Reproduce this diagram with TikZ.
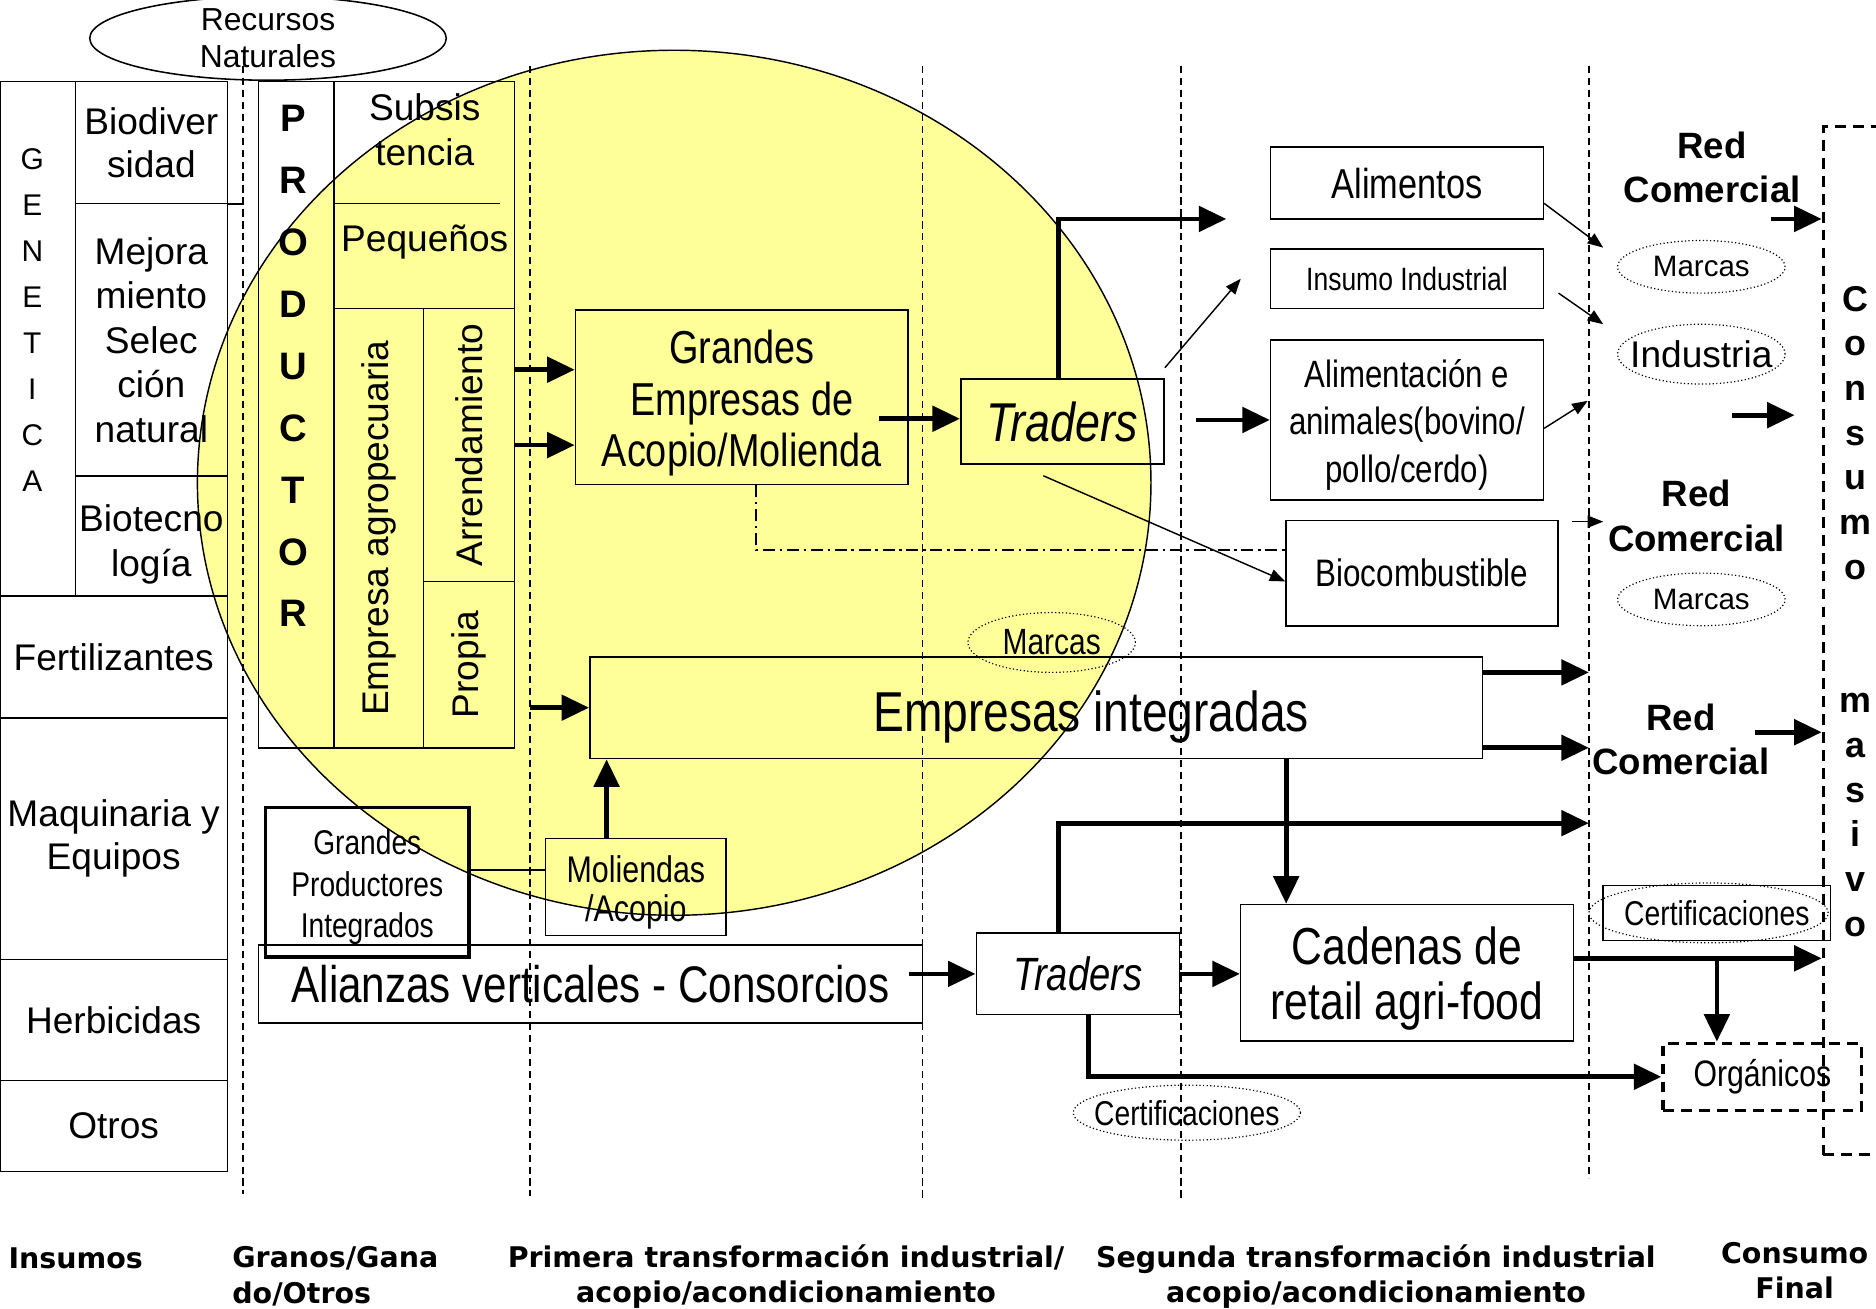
\documentclass[tikz,border=0pt]{standalone}
\usepackage{fontspec}
\setmainfont{Liberation Sans}
\newfontfamily\estrecha[FakeStretch=0.82]{Liberation Sans}
\newfontfamily\verdana{DejaVu Sans}
\usepackage{tikz}
\usetikzlibrary{shapes,arrows.meta}
\definecolor{amarillo}{RGB}{255,255,153}

\begin{document}
\begin{tikzpicture}[x=1pt,y=-1pt]
	\tikzstyle{caja}=[rectangle,draw,line width=1.3pt,inner sep=0pt,align=center,
	font=\fontsize{31}{37}\selectfont]
	\tikzstyle{texto}=[inner sep=0pt,align=center,font=\fontsize{31}{37}\selectfont]
	\tikzstyle{marca}=[ellipse,draw,dotted,line width=1pt,inner sep=0pt]
	\tikzstyle{consumo}=[rectangle,draw,line width=2.8pt,dash pattern=on 9pt off 6pt,
	inner sep=0pt]
	\tikzstyle{etiq}=[inner sep=0pt,align=center,
	font=\verdana\bfseries\fontsize{23.8}{30}\selectfont]
	\tikzstyle{etapa}=[line width=1.2pt,dash pattern=on 6pt off 4pt]

	\useasboundingbox (0,0) rectangle (1568,1094);
	\fill[amarillo] (563.5,403.5) ellipse [x radius=398.5pt, y radius=361.5pt];

	\draw[etapa] (203,55) -- (203,998);
	\draw[etapa] (443,55) -- (443,1000);
	\draw[etapa] (771,55) -- (771,1003);
	\draw[etapa] (987,55) -- (987,1003);
	\draw[etapa] (1328,55) -- (1328,985);

	\node[ellipse,draw,line width=1.3pt,inner sep=0pt,minimum width=298pt,minimum height=68pt,
	align=center,font=\fontsize{26.6}{31}\selectfont] (rec) at (224,32) {Recursos\\Naturales};

	\node[caja,minimum width=63pt,minimum height=430pt] (gen) at (31.5,283) {};
	\node[texto,font=\fontsize{25}{38.5}\selectfont] (genl) at (27,267.5) {G\\E\\N\\E\\T\\I\\C\\A};
	\node[caja,minimum width=127pt,minimum height=102pt,font=\fontsize{31}{36}\selectfont]
	(biod) at (126.5,119) {Biodiver\\sidad};
	\node[caja,minimum width=127pt,minimum height=228pt,font=\fontsize{31}{37.2}\selectfont]
	(mejo) at (126.5,284) {Mejora\\miento\\Selec\\ción\\natural};
	\node[caja,minimum width=127pt,minimum height=100pt] (biot) at (126.5,448) {};
	\node[texto] (biotl) at (126.5,455) {Biotecno\\logía};
	\node[caja,minimum width=190pt,minimum height=102pt] (fert) at (95,549) {Fertilizantes};
	\node[caja,minimum width=190pt,minimum height=202pt,font=\fontsize{31}{36}\selectfont]
	(maqu) at (95,701) {Maquinaria y\\Equipos};
	\node[caja,minimum width=190pt,minimum height=101pt] (herb) at (95,852.5) {Herbicidas};
	\node[caja,minimum width=190pt,minimum height=76pt] (otro) at (95,941) {Otros};

	\node[caja,minimum width=63pt,minimum height=557pt] (prod) at (247.5,346.5) {};
	\node[texto,font=\bfseries\fontsize{32}{51.75}\selectfont] (prodl) at (245,306)
	{P\\R\\O\\D\\U\\C\\T\\O\\R};
	\node[caja,minimum width=151pt,minimum height=190pt] (subs) at (354.5,163) {};
	\node[texto] (subl) at (355,108.5) {Subsis\\tencia};
	\node[texto] (pequ) at (355,202) {Pequeños};
	\node[caja,rotate=90,minimum width=367pt,minimum height=75pt] (empa) at (316.5,441.5)
	{Empresa agropecuaria};
	\node[caja,rotate=90,minimum width=228pt,minimum height=76pt] (arre) at (392,372)
	{Arrendamiento};
	\node[caja,rotate=90,minimum width=139pt,minimum height=76pt] (prop) at (392,555.5) {Propia};

	\node[caja,minimum width=278pt,minimum height=146pt] (gem) at (620,332) {};
	\node[texto,font=\estrecha\fontsize{38.6}{43}\selectfont] (geml) at (620,337)
	{Grandes\\Empresas de\\Acopio/Molienda};
	\node[caja,minimum width=170pt,minimum height=71pt,
	font=\estrecha\itshape\fontsize{45.7}{50}\selectfont] (tra1) at (888,352.5) {Traders};

	\node[caja,minimum width=228pt,minimum height=60pt,font=\estrecha\fontsize{35}{40}\selectfont]
	(alim) at (1176,153) {Alimentos};
	\node[caja,minimum width=228pt,minimum height=50pt,font=\estrecha\fontsize{27}{30}\selectfont]
	(insu) at (1176,233) {Insumo Industrial};
	\node[caja,minimum width=228pt,minimum height=134pt] (alim2) at (1176,351) {};
	\node[texto,font=\estrecha\fontsize{31.8}{39.5}\selectfont] (alim2l) at (1176,355)
	{Alimentación e\\animales(bovino/\\pollo/cerdo)};
	\node[caja,minimum width=227pt,minimum height=88pt,font=\estrecha\fontsize{32}{36}\selectfont]
	(bioc) at (1188.5,479) {Biocombustible};

	\node[texto,font=\bfseries\fontsize{30.6}{36.5}\selectfont] (red1) at (1431,140)
	{Red\\Comercial};
	\node[marca,minimum width=140pt,minimum height=44pt,
	label={[font=\fontsize{24.7}{28}\selectfont]center:Marcas}] (mar1) at (1422,223) {};
	\node[marca,minimum width=140pt,minimum height=50pt,
	label={[font=\fontsize{31}{34}\selectfont]center:Industria}] (indu) at (1422,296) {};
	\node[texto,font=\bfseries\fontsize{30.6}{38}\selectfont] (red2) at (1418,431)
	{Red\\Comercial};
	\node[marca,minimum width=140pt,minimum height=44pt,
	label={[font=\fontsize{24.7}{28}\selectfont]center:Marcas}] (mar2) at (1422,501) {};
	\node[texto,font=\bfseries\fontsize{30.6}{37}\selectfont] (red3) at (1405,618)
	{Red\\Comercial};

	\node[consumo,minimum width=90pt,minimum height=859pt] (cons) at (1569,535.5) {};
	\node[texto,font=\bfseries\fontsize{30}{37.3}\selectfont] (consl) at (1551,511)
	{C\\o\\n\\s\\u\\m\\o\\[74.6pt]m\\a\\s\\i\\v\\o};

	\node[caja,minimum width=746pt,minimum height=85pt] (eint) at (866,591.5) {};
	\node[texto,font=\estrecha\fontsize{47}{50}\selectfont] (eintl) at (912,599)
	{Empresas integradas};
	\node[marca,minimum width=140pt,minimum height=50pt,
	label={[font=\estrecha\fontsize{30.5}{33}\selectfont]center:Marcas}] (mar3) at (879,537) {};

	\node[caja,line width=3pt,minimum width=170pt,minimum height=125pt] (gpi) at (307,737.5) {};
	\node[texto,font=\estrecha\fontsize{28.7}{35}\selectfont] (gpil) at (307,741.5)
	{Grandes\\Productores\\Integrados};
	\node[caja,minimum width=151pt,minimum height=81pt] (moli) at (531.5,741.5) {};
	\node[texto,font=\estrecha\fontsize{31}{33}\selectfont] (molil) at (531.5,746)
	{Moliendas\\/Acopio};
	\node[caja,minimum width=555pt,minimum height=65pt,font=\estrecha\fontsize{43}{46}\selectfont]
	(alia) at (493.5,822.5) {Alianzas verticales - Consorcios};
	\node[caja,minimum width=170pt,minimum height=68pt,
	font=\estrecha\itshape\fontsize{39}{42}\selectfont] (tra2) at (901,814) {Traders};
	\node[caja,minimum width=278pt,minimum height=114pt] (cade) at (1176,813) {};
	\node[texto,font=\estrecha\fontsize{43.5}{46}\selectfont] (cadel) at (1176,818)
	{Cadenas de\\retail agri-food};
	\node[marca,minimum width=200pt,minimum height=50pt] (cer1e) at (1428,763) {};
	\node[draw,line width=1.3pt,minimum width=190pt,minimum height=46pt,inner sep=0pt,
	label={[font=\estrecha\fontsize{28.8}{31}\selectfont]center:Certificaciones}]
	(cer1) at (1435,763) {};
	\node[caja,line width=2.8pt,dash pattern=on 9pt off 6pt,minimum width=166pt,
	minimum height=56pt,font=\estrecha\fontsize{30.8}{33}\selectfont] (orga) at (1473,900)
	{Orgánicos};
	\node[marca,minimum width=190pt,minimum height=46pt,
	label={[font=\estrecha\fontsize{28.8}{31}\selectfont]center:Certificaciones}]
	(cer2) at (992,930) {};

	\node[etiq,anchor=west] (ins) at (7,1052) {Insumos};
	\node[etiq,align=left,anchor=west] (gra) at (194,1067) {Granos/Gana\\do/Otros};
	\node[etiq] (pri) at (657,1067) {Primera transformación industrial/\\acopio/acondicionamiento};
	\node[etiq] (seg) at (1150,1067) {Segunda transformación industrial\\acopio/acondicionamiento};
	\node[etiq] (fin) at (1500,1062) {Consumo\\Final};

	\tikzstyle{flecha}=[line width=4pt,-{Triangle[length=23pt,width=21pt]}]
	\tikzstyle{fina}=[line width=1.2pt,-{Triangle[length=13pt,width=10pt]}]
	\tikzstyle{rayapunto}=[line width=1.5pt,dash pattern=on 10pt off 4pt on 2pt off 4pt]

	\coordinate (p1) at (430,309);
	\coordinate (p2) at (430,372);
	\coordinate (g1) at (735,350);
	\coordinate (t1) at (1025,183);
	\coordinate (t2) at (1037,233);
	\coordinate (t3) at (1000,351);
	\coordinate (m1) at (1340,207);
	\coordinate (m2) at (1340,271);
	\coordinate (m3) at (1327,335);
	\coordinate (m4) at (1340,436);
	\coordinate (m5) at (1314,436);
	\coordinate (r1) at (1480,183);
	\coordinate (r2) at (1448,347);
	\coordinate (r3) at (1500,347);
	\coordinate (r4) at (1467,612);
	\coordinate (e0) at (443,591.5);
	\coordinate (s1) at (1328,562);
	\coordinate (s2) at (1328,625);
	\coordinate (s3) at (1328,688);
	\coordinate (a1) at (760,814);
	\coordinate (c1) at (1315,801);
	\coordinate (c2) at (1435,801);

	\draw[line width=1.3pt] (biod.south east) -- ++(13,0);
	\draw[line width=1.3pt] (subs.west |- 0,170) -- (418,170);
	\draw[line width=1.3pt] (gpi.east |- 0,727) -- (moli.west |- 0,727);

	\draw[flecha] (p1) -- (p1 -| gem.west);
	\draw[flecha] (p2) -- (p2 -| gem.west);
	\draw[flecha] (g1) -- (g1 -| tra1.west);
	\draw[flecha] (tra1.north -| 885,0) |- (t1);
	\draw[fina] ([yshift=9pt]tra1.north east) -- (t2);
	\draw[fina] ([xshift=-16pt,yshift=-9pt]tra1.south) -- ([yshift=-7pt]bioc.west);
	\draw[rayapunto] (gem.south -| 632,0) |- (bioc.west |- 0,460);
	\draw[flecha] (t3) -- (alim2.west);

	\draw[fina] ([yshift=-17pt]alim.east) -- (m1);
	\draw[fina] ([xshift=12pt,yshift=-12pt]insu.east) -- (m2);
	\draw[fina] ([yshift=-7pt]alim2.east) -- (m3);
	\draw[fina] (m5) -- (m4);
	\draw[flecha] (r1) -- (r1 -| cons.west);
	\draw[flecha] (r2) -- (r3);
	\draw[flecha] (r4) -- (r4 -| cons.west);

	\draw[flecha] (e0) -- (eint.west);
	\draw[flecha] (s1 -| eint.east) -- (s1);
	\draw[flecha] (s2 -| eint.east) -- (s2);
	\draw[flecha] (eint.south -| 1075,0) -- (cade.north -| 1075,0);
	\draw[flecha] (moli.north -| 507,0) -- (eint.south -| 507,0);
	\draw[flecha] (a1) -- (tra2.west);
	\draw[flecha] (tra2.east) -- (tra2.east -| cade.west);
	\draw[flecha] (tra2.north -| 885,0) |- (s3);
	\draw[flecha] (c1) -- (c1 -| cons.west);
	\draw[flecha] (c2) -- (c2 |- orga.north);
	\draw[flecha] (tra2.south -| 910,0) |- (orga.west);

	\draw[line width=1.2pt] (563.5,403.5) ellipse [x radius=398.5pt, y radius=361.5pt];
\end{tikzpicture}
\end{document}
